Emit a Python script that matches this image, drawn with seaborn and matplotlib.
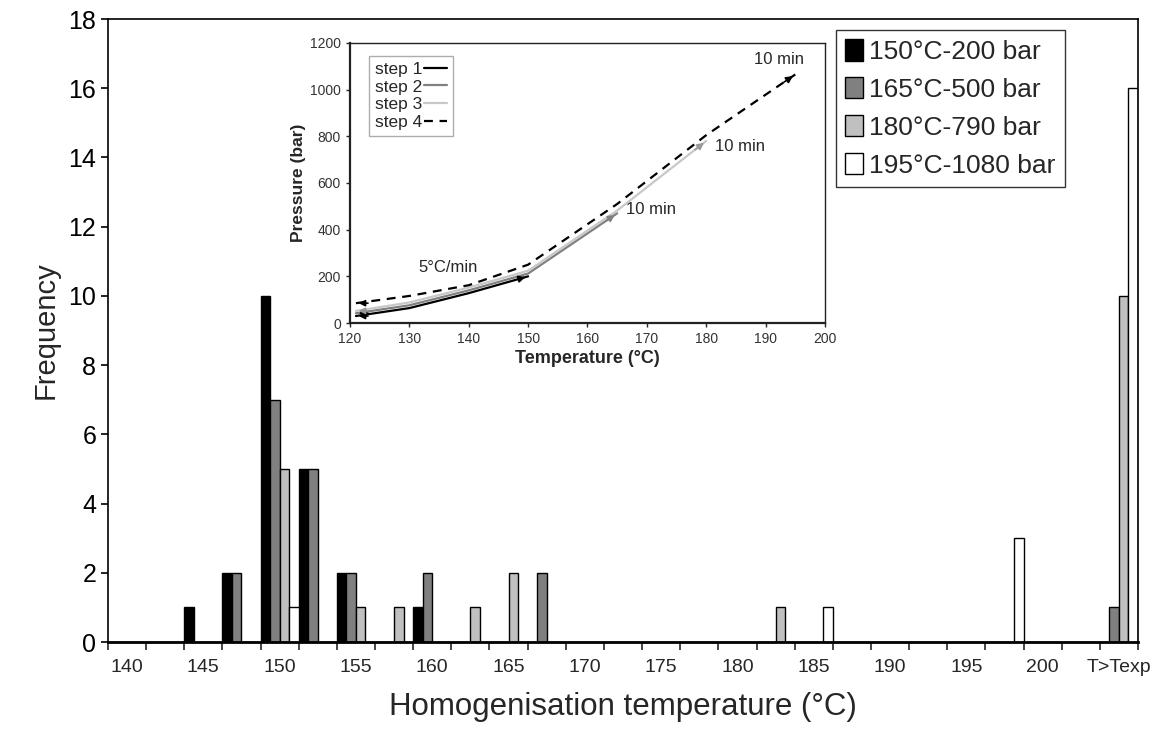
import pandas as pd
import matplotlib.pyplot as plt
import seaborn as sns
from matplotlib import font_manager

# Categorías del eje x (clases de 2.5 °C, más la clase T>Texp)
categorias = ['140', '142.5', '145', '147.5', '150', '152.5', '155', '157.5', '160',
              '162.5', '165', '167.5', '170', '172.5', '175', '177.5', '180', '182.5',
              '185', '187.5', '190', '192.5', '195', '197.5', '200', '202.5', 'T>Texp']

series = ['150°C-200 bar', '165°C-500 bar', '180°C-790 bar', '195°C-1080 bar']

f_150 = [0, 0, 1, 2, 10, 5, 2, 0, 1, 0, 0, 0, 0, 0, 0, 0, 0, 0, 0, 0, 0, 0, 0, 0, 0, 0, 0]
f_165 = [0, 0, 0, 2, 7, 5, 2, 0, 2, 0, 0, 2, 0, 0, 0, 0, 0, 0, 0, 0, 0, 0, 0, 0, 0, 0, 1]
f_180 = [0, 0, 0, 0, 5, 0, 1, 1, 0, 1, 2, 0, 0, 0, 0, 0, 0, 1, 0, 0, 0, 0, 0, 0, 0, 0, 10]
f_195 = [0, 0, 0, 0, 1, 0, 0, 0, 0, 0, 0, 0, 0, 0, 0, 0, 0, 0, 1, 0, 0, 0, 0, 3, 0, 0, 16]

# Datos del recuadro (trayectorias P-T)
t_paso1 = [121, 130, 140, 150]
p_paso1 = [30, 64, 128, 200]
t_paso2 = [121, 130, 140, 150, 165]
p_paso2 = [42, 76, 140, 212, 470]
t_paso3 = [121, 130, 140, 150, 165, 180]
p_paso3 = [52, 88, 152, 224, 482, 780]
t_paso4 = [121, 130, 140, 150, 165, 180, 195]
p_paso4 = [85, 116, 162, 250, 510, 805, 1065]

colores = ['#000000', '#808080', '#c0c0c0', '#ffffff']

# Armar tabla larga para seaborn
filas = []
for s, vals in zip(series, [f_150, f_165, f_180, f_195]):
    for c, v in zip(categorias, vals):
        filas.append({'cat': c, 'serie': s, 'freq': v})
df = pd.DataFrame(filas)

sns.set_style('white')
nombres = {f.name for f in font_manager.fontManager.ttflist}
narrow = 'Liberation Sans Narrow' if 'Liberation Sans Narrow' in nombres else 'Liberation Sans'
plt.rcParams['font.family'] = ['Liberation Sans', 'DejaVu Sans']

fig = plt.figure(figsize=(11.57, 7.37), dpi=100)
ax = fig.add_axes([0.0933, 0.1289, 0.8903, 0.8453])

sns.barplot(data=df, x='cat', y='freq', hue='serie', order=categorias, hue_order=series,
            palette=colores, width=1.0, edgecolor='black', linewidth=1.0, ax=ax)

ax.set_xlim(-0.5, len(categorias) - 0.5)
ax.set_ylim(0, 18)
ax.set_yticks(range(0, 19, 2))
ax.tick_params(axis='y', labelsize=18, length=5, width=1.2, direction='out', left=True, colors='black')

# Marcas entre categorías, etiquetas cada dos categorías
ax.set_xticks([i for i in range(0, len(categorias), 2)])
ax.set_xticklabels([categorias[i] if categorias[i] != '202.5' else '' for i in range(0, len(categorias), 2)],
                   fontsize=14, family=narrow)
ax.set_xticks([i - 0.5 for i in range(len(categorias) + 1)], minor=True)
ax.tick_params(axis='x', which='major', length=0, pad=12)
ax.tick_params(axis='x', which='minor', length=6, width=1.2, direction='out', bottom=True)

for sp in ax.spines.values():
    sp.set_visible(True)
    sp.set_color('black')
    sp.set_linewidth(1.2)
ax.spines['bottom'].set_linewidth(2)

ax.set_xlabel('Homogenisation temperature (°C)', fontsize=22.5, family=narrow, labelpad=12)
ax.set_ylabel('Frequency', fontsize=21, labelpad=6)

h, l = ax.get_legend_handles_labels()
leg = ax.legend(h, l, loc='upper left', bbox_to_anchor=(0.707, 0.982), borderaxespad=0,
                fontsize=19, frameon=True, fancybox=False, edgecolor='black', handlelength=0.65,
                handleheight=0.85, handletextpad=0.25, borderpad=0.35, labelspacing=0.5)
leg.get_frame().set_linewidth(1.0)

# Recuadro interior
ins = fig.add_axes([0.3025, 0.5617, 0.4105, 0.380])
ins.set_facecolor('white')
gris = '#333333'
pasos = [(t_paso1, p_paso1, 'step 1', '#000000', '-'),
         (t_paso2, p_paso2, 'step 2', '#808080', '-'),
         (t_paso3, p_paso3, 'step 3', '#c8c8c8', '-'),
         (t_paso4, p_paso4, 'step 4', '#000000', (0, (4, 3)))]
for t, p, lab, col, ls in pasos:
    sns.lineplot(x=t, y=p, ax=ins, color=col, linestyle=ls, linewidth=1.6, label=lab)
    # flecha al inicio (hacia la izquierda) y al final
    ins.annotate('', xy=(t[0], p[0]), xytext=(t[0] + 2.5, p[0]),
                 arrowprops=dict(arrowstyle='-|>', color='black' if col != '#c8c8c8' else '#999999',
                                 lw=1.2, mutation_scale=9))
    ins.annotate('', xy=(t[-1], p[-1]), xytext=(t[-2] + (t[-1] - t[-2]) * 0.85,
                                              p[-2] + (p[-1] - p[-2]) * 0.85),
                 arrowprops=dict(arrowstyle='-|>', color=col if col != '#c8c8c8' else '#999999',
                                 lw=1.2, mutation_scale=10))

ins.text(136.5, 237, '5°C/min', fontsize=12, ha='center', va='center')
ins.text(t_paso2[-1] + 1.5, p_paso2[-1] + 15, '10 min', fontsize=12, ha='left', va='center')
ins.text(t_paso3[-1] + 1.5, p_paso3[-1] - 25, '10 min', fontsize=12, ha='left', va='center')
ins.text(t_paso4[-1] + 1.5, p_paso4[-1] + 65, '10 min', fontsize=12, ha='right', va='center')

ins.set_xlim(120, 200)
ins.set_ylim(0, 1200)
ins.set_xticks(range(120, 201, 10))
ins.set_yticks(range(0, 1201, 200))
ins.tick_params(labelsize=10, labelcolor=gris, length=3, width=1.0, direction='out',
                left=True, bottom=True)
for sp in ins.spines.values():
    sp.set_visible(True)
    sp.set_color('#222222')
    sp.set_linewidth(1.0)
ins.spines['left'].set_linewidth(1.6)
ins.spines['bottom'].set_linewidth(1.6)
ins.set_xlabel('Temperature (°C)', fontsize=13, fontweight='bold', labelpad=3)
ins.set_ylabel('Pressure (bar)', fontsize=12.5, fontweight='bold', labelpad=3)
ileg = ins.legend(loc='upper left', bbox_to_anchor=(0.04, 0.955), borderaxespad=0, fontsize=12.5,
                  markerfirst=False, frameon=True, fancybox=False, edgecolor='#999999',
                  handlelength=1.3, handletextpad=0.1, borderpad=0.35, labelspacing=0.15)

plt.savefig('out.png', dpi=100)
